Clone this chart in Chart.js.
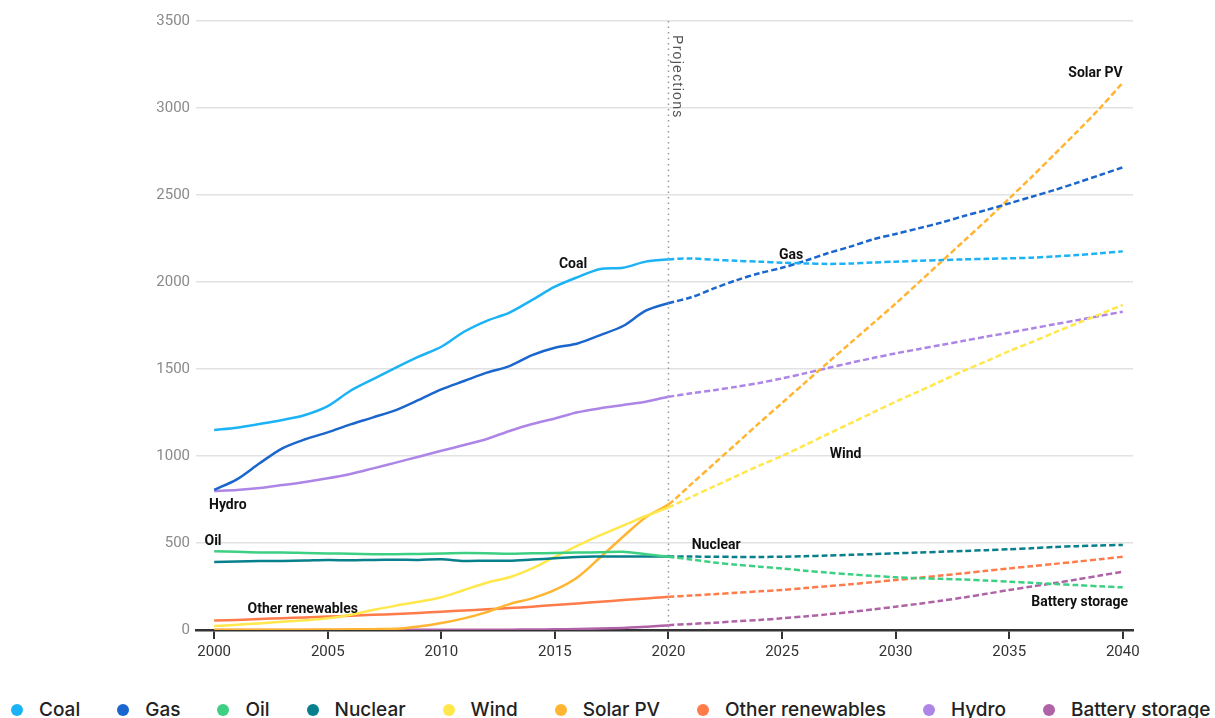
<!DOCTYPE html>
<html>
<head>
<meta charset="utf-8">
<script src="https://cdn.jsdelivr.net/npm/chart.js@4.4.1/dist/chart.umd.min.js"></script>
<style>
  html, body { margin: 0; padding: 0; background: #fff; overflow: hidden; }
  #wrap { position: relative; width: 1215px; height: 690px; }
  #legend { position: absolute; left: 11px; top: 698px; display: flex; white-space: nowrap;
            font-family: Inter, "Noto Sans", sans-serif; font-weight: 500; font-size: 19px; color: #222; }
  #legend .item { display: flex; align-items: center; margin-right: 37px; }
  #legend .dot { width: 12px; height: 12px; border-radius: 50%; margin-right: 16px; }
</style>
</head>
<body>
<div id="wrap"><canvas id="chart"></canvas></div>
<div id="legend"></div>
<script>
// years 2000..2040, 2020 onward are projections
const years = [];
for (let y = 2000; y <= 2040; y++) years.push(y);

const coal = [1150,1163,1184,1207,1236,1287,1375,1442,1508,1571,1628,1714,1777,1824,1897,1973,2028,2075,2082,2117,2130,
              2135,2128,2122,2117,2111,2107,2104,2106,2112,2117,2122,2126,2130,2133,2136,2140,2147,2155,2165,2176];
const gas = [805,866,958,1044,1096,1136,1182,1222,1264,1322,1383,1431,1479,1517,1580,1622,1647,1695,1747,1835,1878,
             1912,1963,2011,2050,2082,2121,2165,2203,2245,2276,2308,2341,2379,2414,2452,2490,2529,2571,2615,2659];
const oil = [452,449,446,446,443,440,438,436,436,437,440,442,441,438,441,442,445,447,450,435,421,
             405,388,375,364,354,341,330,320,311,303,298,294,290,284,278,271,264,258,251,245];
const nuclear = [391,393,396,397,399,402,401,403,404,403,406,397,398,398,405,412,420,422,423,422,422,
                 422,421,420,420,421,424,428,432,436,441,445,450,454,459,464,470,477,482,486,489];
const wind = [23,30,38,47,56,67,88,115,140,162,188,230,272,303,354,420,485,545,600,655,705,
              765,825,885,945,1000,1062,1125,1187,1250,1312,1370,1430,1490,1545,1603,1655,1710,1763,1815,1868];
const solar = [1,1,1,2,2,3,4,5,7,20,40,67,103,149,182,230,303,418,536,648,722,
               838,955,1072,1190,1305,1420,1535,1648,1762,1876,1995,2115,2235,2355,2480,2605,2735,2865,3000,3146];
const otherRen = [54,58,63,68,72,77,82,87,92,98,105,112,119,126,134,144,153,162,172,181,191,
                  198,206,214,222,230,241,252,263,275,287,300,313,326,340,354,367,380,393,407,421];
const hydro = [799,805,816,833,851,872,897,929,962,996,1030,1063,1098,1144,1184,1216,1251,1274,1293,1312,1340,
               1360,1378,1398,1420,1446,1475,1505,1535,1563,1590,1614,1638,1662,1686,1709,1733,1757,1781,1805,1829];
const battery = [0,0,0,0,0,0,0,0,1,1,1,1,2,2,3,4,6,8,12,18,28,
                 35,42,50,58,67,78,90,103,118,134,150,168,187,208,230,250,270,291,313,335];

const seriesNames = ['Coal','Gas','Oil','Nuclear','Wind','Solar PV','Other renewables','Hydro','Battery storage'];
const seriesData = [coal, gas, oil, nuclear, wind, solar, otherRen, hydro, battery];
const seriesColors = ['#1bb3f5','#1a66cc','#3dd083','#087f8c','#ffe74c','#ffb531','#ff7b4a','#ad85e6','#b062a6'];

const yTicks = [0,500,1000,1500,2000,2500,3000,3500];
const xTicks = [2000,2005,2010,2015,2020,2025,2030,2035,2040];
const projectionStart = 2020;

// labels on the lines: [text, year, value]
const lineLabels = [
  ['Coal', 2015.8, 2103], ['Gas', 2025.4, 2155], ['Solar PV', 2038.8, 3201],
  ['Wind', 2027.8, 1011], ['Hydro', 2000.6, 718], ['Oil', 1999.95, 506],
  ['Nuclear', 2022.1, 483], ['Other renewables', 2003.9, 115], ['Battery storage', 2038.1, 158]
];

const tickFont = 'Roboto, sans-serif';

const datasets = seriesNames.map((name, i) => ({
  label: name,
  data: years.map((yr, j) => ({ x: yr, y: seriesData[i][j] })),
  borderColor: seriesColors[i],
  backgroundColor: seriesColors[i],
  borderWidth: 2.5,
  pointRadius: 0,
  tension: 0.3,
  segment: {
    borderDash: ctx => ctx.p0.parsed.x >= projectionStart ? [6, 3] : undefined
  }
}));

const annotate = {
  id: 'annotate',
  beforeDatasetsDraw(chart) {
    const { ctx, chartArea, scales } = chart;
    const x = scales.x.getPixelForValue(projectionStart);
    ctx.save();
    ctx.strokeStyle = '#9a9a9a';
    ctx.lineWidth = 1.5;
    ctx.setLineDash([1.5, 4]);
    ctx.beginPath();
    ctx.moveTo(x, chartArea.top);
    ctx.lineTo(x, chartArea.bottom);
    ctx.stroke();
    ctx.setLineDash([]);
    ctx.translate(x + 8, chartArea.top + 14);
    ctx.rotate(Math.PI / 2);
    ctx.fillStyle = '#555';
    ctx.font = '14px "Liberation Sans", Arial, sans-serif';
    ctx.textAlign = 'left';
    ctx.textBaseline = 'middle';
    ctx.letterSpacing = '1.3px';
    ctx.fillText('Projections', 0, 0);
    ctx.restore();
  },
  afterDatasetsDraw(chart) {
    const { ctx, scales } = chart;
    ctx.save();
    ctx.fillStyle = '#111';
    ctx.font = 'bold 14px Roboto, sans-serif';
    ctx.textAlign = 'center';
    ctx.textBaseline = 'middle';
    lineLabels.forEach(([t, yr, v]) => {
      ctx.fillText(t, scales.x.getPixelForValue(yr), scales.y.getPixelForValue(v));
    });
    ctx.restore();
  }
};

new Chart(document.getElementById('chart'), {
  type: 'line',
  data: { datasets },
  options: {
    responsive: true,
    maintainAspectRatio: false,
    animation: false,
    layout: { padding: { top: 21, right: 82, left: 0, bottom: 0 } },
    plugins: { legend: { display: false }, tooltip: { enabled: false } },
    scales: {
      x: {
        type: 'linear',
        min: 1999.2,
        max: 2040.45,
        afterBuildTicks: s => { s.ticks = xTicks.map(v => ({ value: v })); },
        afterFit: s => { s.height = 60; },
        border: { display: true, color: '#333', width: 2.5 },
        grid: { drawOnChartArea: false, drawTicks: true, tickLength: 9, color: '#333', lineWidth: 2 },
        ticks: { color: '#333', padding: 4, font: { family: tickFont, size: 15 }, callback: v => String(v), maxRotation: 0 }
      },
      y: {
        min: 0,
        max: 3500,
        afterBuildTicks: s => { s.ticks = yTicks.map(v => ({ value: v })); },
        afterFit: s => { s.width = 196; },
        border: { display: false },
        grid: { color: '#e2e2e2', lineWidth: 1.5, drawTicks: false },
        ticks: { color: '#8a8a8a', padding: 6, font: { family: tickFont, size: 15 }, callback: v => String(v) }
      }
    }
  },
  plugins: [annotate]
});

// legend built from the same series arrays
const legend = document.getElementById('legend');
seriesNames.forEach((name, i) => {
  const item = document.createElement('div');
  item.className = 'item';
  const dot = document.createElement('span');
  dot.className = 'dot';
  dot.style.background = seriesColors[i];
  const txt = document.createElement('span');
  txt.textContent = name;
  item.appendChild(dot);
  item.appendChild(txt);
  legend.appendChild(item);
});
</script>
</body>
</html>
